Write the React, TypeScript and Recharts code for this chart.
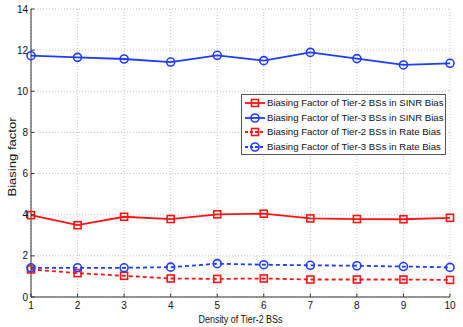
import React from 'react';
import { LineChart, Line, XAxis, YAxis, CartesianGrid } from 'recharts';

// density of tier-2 BSs
const densities = [1, 2, 3, 4, 5, 6, 7, 8, 9, 10];
const tier2Sinr = [3.98, 3.49, 3.9, 3.79, 4.02, 4.05, 3.82, 3.79, 3.78, 3.85];
const tier3Sinr = [11.73, 11.65, 11.57, 11.42, 11.75, 11.49, 11.89, 11.59, 11.28, 11.36];
const tier2Rate = [1.34, 1.16, 1.03, 0.9, 0.88, 0.9, 0.85, 0.85, 0.85, 0.83];
const tier3Rate = [1.42, 1.42, 1.42, 1.45, 1.62, 1.57, 1.54, 1.52, 1.48, 1.44];
const xTicks = [1, 2, 3, 4, 5, 6, 7, 8, 9, 10];
const yTicks = [0, 2, 4, 6, 8, 10, 12, 14];

const RED = '#ff1414';
const BLUE = '#1f3cff';
const AXIS = '#333';
const FONT = '"Liberation Sans", Arial, sans-serif';

const data = densities.map((d, i) => ({
  density: d,
  t2sinr: tier2Sinr[i],
  t3sinr: tier3Sinr[i],
  t2rate: tier2Rate[i],
  t3rate: tier3Rate[i],
}));

const series = [
  { key: 't2sinr', name: 'Biasing Factor of Tier-2 BSs in SINR Bias', color: RED, marker: 'square', dashed: false },
  { key: 't3sinr', name: 'Biasing Factor of Tier-3 BSs in SINR Bias', color: BLUE, marker: 'circle', dashed: false },
  { key: 't2rate', name: 'Biasing Factor of Tier-2 BSs in Rate Bias', color: RED, marker: 'square', dashed: true },
  { key: 't3rate', name: 'Biasing Factor of Tier-3 BSs in Rate Bias', color: BLUE, marker: 'circle', dashed: true },
];

const SquareDot = (props: any) => {
  const { cx, cy, stroke, index } = props;
  if (cx == null || cy == null) return null;
  return <rect key={index} x={cx - 3.5} y={cy - 3.5} width={7} height={7} fill="none" stroke={stroke} strokeWidth={1.6} />;
};

const CircleDot = (props: any) => {
  const { cx, cy, stroke, index } = props;
  if (cx == null || cy == null) return null;
  return <circle key={index} cx={cx} cy={cy} r={4} fill="none" stroke={stroke} strokeWidth={1.6} />;
};

// matlab style ticks: short marks pointing into the plot, tickSize/tickMargin are 0 so x/y sit on the axis line
const TICK = 3.5;
const BottomTick = ({ x, y, payload }: any) => (
  <g>
    <line x1={x} y1={y} x2={x} y2={y - TICK} stroke={AXIS} />
    <text x={x} y={y + 12} textAnchor="middle" fontSize={10} fontFamily={FONT} fill="#111">{payload.value}</text>
  </g>
);
const TopTick = ({ x, y }: any) => <line x1={x} y1={y} x2={x} y2={y + TICK} stroke={AXIS} />;
const LeftTick = ({ x, y, payload }: any) => (
  <g>
    <line x1={x} y1={y} x2={x + TICK} y2={y} stroke={AXIS} />
    <text x={x - 3} y={y + 3.5} textAnchor="end" fontSize={10} fontFamily={FONT} fill="#111">{payload.value}</text>
  </g>
);
const RightTick = ({ x, y }: any) => <line x1={x} y1={y} x2={x - TICK} y2={y} stroke={AXIS} />;

const XLabel = ({ viewBox }: any) => {
  const cx = viewBox.x + viewBox.width / 2;
  return (
    <text x={cx} y={viewBox.y + 26} textAnchor="middle" fontSize={10} fontFamily={FONT} fill="#111" textLength={84} lengthAdjust="spacingAndGlyphs">
      Density of Tier-2 BSs
    </text>
  );
};

const YLabel = ({ viewBox }: any) => {
  const cy = viewBox.y + viewBox.height / 2 + 4;
  const cx = 16;
  return (
    <text x={cx} y={cy} transform={`rotate(-90 ${cx} ${cy})`} textAnchor="middle" fontSize={10} fontFamily={FONT} fill="#111" textLength={79} lengthAdjust="spacingAndGlyphs">
      Biasing factor
    </text>
  );
};

// legend drawn as an overlay so it doesn't eat plot space
const LegendBox = () => (
  <div
    style={{
      position: 'absolute',
      left: 241,
      top: 94,
      width: 205,
      height: 61,
      boxSizing: 'border-box',
      border: '1px solid #555',
      background: '#fff',
      padding: '1px 0 0 2px',
      fontFamily: FONT,
      fontSize: 9.6,
      lineHeight: '14.5px',
      color: '#111',
      whiteSpace: 'nowrap',
    }}
  >
    {series.map((s) => (
      <div key={s.key} style={{ display: 'flex', alignItems: 'center', height: 14.5 }}>
        <svg width={22} height={12} style={{ marginRight: 1, flexShrink: 0 }}>
          <line x1={1} y1={6} x2={21} y2={6} stroke={s.color} strokeWidth={1.8} strokeDasharray={s.dashed ? '3 2' : undefined} />
          {s.marker === 'square' ? (
            <rect x={7.5} y={2.5} width={7} height={7} fill="none" stroke={s.color} strokeWidth={1.6} />
          ) : (
            <circle cx={11} cy={6} r={4} fill="none" stroke={s.color} strokeWidth={1.6} />
          )}
        </svg>
        <span>{s.name}</span>
      </div>
    ))}
  </div>
);

export default function App() {
  return (
    <div style={{ position: 'absolute', left: 0, top: 0, width: 463, height: 327, background: '#fff' }}>
      <LineChart width={463} height={327} data={data} margin={{ top: 9, right: 13, left: 0, bottom: 0 }}>
        <CartesianGrid stroke="#c4c4c4" strokeDasharray="1 2" />
        <XAxis
          dataKey="density"
          type="number"
          domain={[1, 10]}
          ticks={xTicks}
          height={30}
          tickLine={false}
          tickSize={0}
          tickMargin={0}
          axisLine={{ stroke: AXIS }}
          tick={<BottomTick />}
          label={<XLabel />}
        />
        <XAxis
          xAxisId="top"
          orientation="top"
          dataKey="density"
          type="number"
          domain={[1, 10]}
          ticks={xTicks}
          height={0}
          tickLine={false}
          tickSize={0}
          tickMargin={0}
          tick={<TopTick />}
          axisLine={{ stroke: AXIS }}
        />
        <YAxis
          type="number"
          domain={[0, 14]}
          ticks={yTicks}
          width={31}
          tickLine={false}
          tickSize={0}
          tickMargin={0}
          axisLine={{ stroke: AXIS }}
          tick={<LeftTick />}
          label={<YLabel />}
        />
        <YAxis
          yAxisId="right"
          orientation="right"
          type="number"
          domain={[0, 14]}
          ticks={yTicks}
          width={0}
          tickLine={false}
          tickSize={0}
          tickMargin={0}
          tick={<RightTick />}
          axisLine={{ stroke: AXIS }}
        />
        {series.map((s) => (
          <Line
            key={s.key}
            dataKey={s.key}
            name={s.name}
            stroke={s.color}
            strokeWidth={1.8}
            strokeDasharray={s.dashed ? '4 3' : undefined}
            dot={s.marker === 'square' ? <SquareDot /> : <CircleDot />}
            activeDot={false}
            isAnimationActive={false}
          />
        ))}
      </LineChart>
      <LegendBox />
    </div>
  );
}
